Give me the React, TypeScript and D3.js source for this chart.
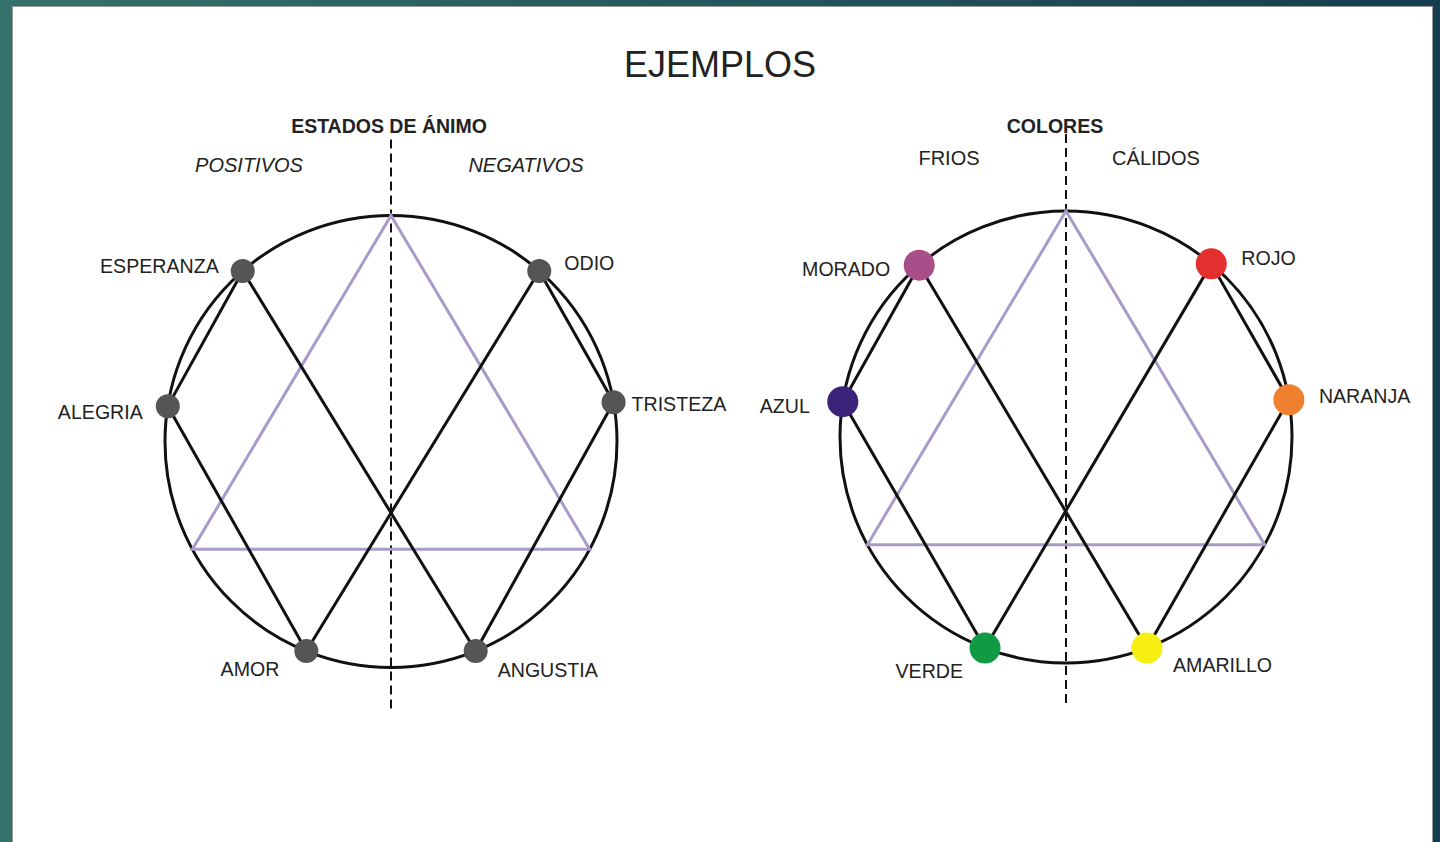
import * as d3 from 'd3'
import { useEffect, useRef } from 'react'

// --- data ---
const title = 'EJEMPLOS'

const moodTitle = 'ESTADOS DE ÁNIMO'
const moodSides = ['POSITIVOS', 'NEGATIVOS']
const moodNames = ['ESPERANZA', 'ALEGRIA', 'AMOR', 'ODIO', 'TRISTEZA', 'ANGUSTIA']
const moodAngles = [-41, -81, -158, 41, 80, 158] // degrees, clockwise from 12 o'clock
const moodFills = ['#555555', '#555555', '#555555', '#555555', '#555555', '#555555']

const colorTitle = 'COLORES'
const colorSides = ['FRIOS', 'CÁLIDOS']
const colorNames = ['MORADO', 'AZUL', 'VERDE', 'ROJO', 'NARANJA', 'AMARILLO']
const colorAngles = [-40.5, -81, -159, 40, 80.5, 159]
const colorFills = ['#a84e88', '#3a2379', '#0f9a43', '#e3302e', '#f08030', '#f7ee12']

// chords between points (same pattern on both wheels)
const links = [[0, 1], [0, 5], [1, 2], [3, 4], [3, 2], [4, 5]]
const triangleAngles = [0, 118.5, -118.5]

// small hand nudges for label placement (layout only)
const labelNudge = {
  ESPERANZA: [3, -1], ALEGRIA: [2, 4], AMOR: [0, -4],
  ODIO: [-2, -4], TRISTEZA: [-9, 0], ANGUSTIA: [-5, -3],
  MORADO: [-2, 8], AZUL: [-6, 2], VERDE: [5, 1],
  ROJO: [3, -2], NARANJA: [3, -6], AMARILLO: [-1, -5],
}

const FONT = '"Liberation Sans", Arial, sans-serif'

export default function App() {
  const svgRef = useRef(null)

  useEffect(() => {
    const W = 1440, H = 842
    const svg = d3.select(svgRef.current)
    svg.selectAll('*').remove()

    const defs = svg.append('defs')
    const grad = defs.append('linearGradient').attr('id', 'bg').attr('x1', 0).attr('x2', 1).attr('y1', 0).attr('y2', 0)
    grad.append('stop').attr('offset', '0%').attr('stop-color', '#35716b')
    grad.append('stop').attr('offset', '100%').attr('stop-color', '#143d4f')

    svg.append('rect').attr('width', W).attr('height', H).attr('fill', 'url(#bg)')
    svg.append('rect').attr('x', 12.5).attr('y', 6.5).attr('width', 1420).attr('height', 845)
      .attr('fill', '#fff').attr('stroke', '#9a9a9a').attr('stroke-width', 1)

    svg.append('text').attr('x', 720).attr('y', 77).attr('text-anchor', 'middle')
      .style('font', `36px ${FONT}`).attr('fill', '#222').text(title)

    const drawWheel = (cfg) => {
      const g = svg.append('g').attr('transform', `translate(${cfg.cx},${cfg.cy})`)
      const rad = d3.scaleLinear().domain([0, 360]).range([0, 2 * Math.PI])
      const pos = (a, r = cfg.r) => d3.pointRadial(rad(a), r)

      // dashed divider
      g.append('line').attr('x1', 0).attr('x2', 0).attr('y1', cfg.dashTop).attr('y2', cfg.dashBottom)
        .attr('stroke', '#111').attr('stroke-width', 2).attr('stroke-dasharray', '9,5')

      // headers
      g.append('text').attr('x', cfg.titleDx).attr('y', cfg.titleY).attr('text-anchor', 'middle')
        .style('font', `bold 19.5px ${FONT}`).attr('fill', '#222').text(cfg.title)
      g.selectAll('text.side').data(cfg.sides).join('text').attr('class', 'side')
        .attr('x', (d, i) => cfg.sideDx[i]).attr('y', cfg.sideY).attr('text-anchor', 'middle')
        .style('font', `${cfg.italic ? 'italic ' : ''}20px ${FONT}`).attr('fill', '#222').text(d => d)

      // outer circle
      g.append('circle').attr('r', cfg.r).attr('fill', 'none').attr('stroke', '#111').attr('stroke-width', 3)

      // purple triangle
      const tri = triangleAngles.map(a => pos(a))
      g.append('path').attr('d', d3.line()(tri) + 'Z').attr('fill', 'none')
        .attr('stroke', '#a99bc9').attr('stroke-width', 3).attr('stroke-linejoin', 'miter')

      // chords
      const pts = cfg.angles.map(a => pos(a))
      g.selectAll('line.chord').data(links).join('line').attr('class', 'chord')
        .attr('x1', d => pts[d[0]][0]).attr('y1', d => pts[d[0]][1])
        .attr('x2', d => pts[d[1]][0]).attr('y2', d => pts[d[1]][1])
        .attr('stroke', '#111').attr('stroke-width', 3)

      // dots
      g.selectAll('circle.dot').data(pts).join('circle').attr('class', 'dot')
        .attr('cx', d => d[0]).attr('cy', d => d[1]).attr('r', cfg.dotR)
        .attr('fill', (d, i) => cfg.fills[i])

      // labels
      g.selectAll('text.lab').data(cfg.names).join('text').attr('class', 'lab')
        .attr('x', (d, i) => pts[i][0] + (pts[i][0] < 0 ? -27 : 27) + (labelNudge[d] || [0, 0])[0])
        .attr('y', (d, i) => {
          const a = Math.abs(cfg.angles[i])
          return pts[i][1] + (a > 120 ? 22 : a < 60 ? -4 : 2) + (labelNudge[d] || [0, 0])[1]
        })
        .attr('dy', '0.35em')
        .attr('text-anchor', (d, i) => pts[i][0] < 0 ? 'end' : 'start')
        .style('font', `19.6px ${FONT}`).attr('fill', '#222').text(d => d)
    }

    drawWheel({
      cx: 391, cy: 441.5, r: 226, dotR: 12,
      angles: moodAngles, names: moodNames, fills: moodFills,
      title: moodTitle, titleDx: -2, titleY: -308.5,
      sides: moodSides, sideDx: [-142, 135], sideY: -270, italic: true,
      dashTop: -302, dashBottom: 272,
    })
    drawWheel({
      cx: 1066, cy: 437, r: 226, dotR: 15.5,
      angles: colorAngles, names: colorNames, fills: colorFills,
      title: colorTitle, titleDx: -11, titleY: -304,
      sides: colorSides, sideDx: [-117, 90], sideY: -272, italic: false,
      dashTop: -303, dashBottom: 268,
    })
  }, [])

  return (
    <svg ref={svgRef} width={1440} height={842}
      style={{ position: 'absolute', left: 0, top: 0, display: 'block' }} />
  )
}
